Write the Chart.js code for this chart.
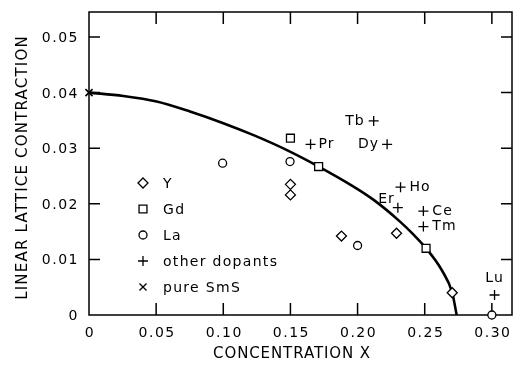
<!DOCTYPE html>
<html>
<head>
<meta charset="utf-8">
<script src="https://cdn.jsdelivr.net/npm/chart.js@4/dist/chart.umd.min.js"></script>
<style>
  html, body { margin: 0; padding: 0; background: #fff; }
</style>
</head>
<body>
<canvas id="chart" width="513" height="369"></canvas>
<script>
// axis ticks
const xTicks = [0, 0.05, 0.10, 0.15, 0.20, 0.25, 0.30];
const xTickLabels = ['0', '0.05', '0.10', '0.15', '0.20', '0.25', '0.30'];
const yTicks = [0, 0.01, 0.02, 0.03, 0.04, 0.05];
const yTickLabels = ['0', '0.01', '0.02', '0.03', '0.04', '0.05'];

// measured points
const yttX = [0.150, 0.150, 0.188, 0.229, 0.2705];
const yttY = [0.0235, 0.0216, 0.0142, 0.0147, 0.0040];
const gdX = [0.150, 0.171, 0.251];
const gdY = [0.0318, 0.0267, 0.0120];
const laX = [0.0995, 0.1497, 0.200, 0.300];
const laY = [0.0273, 0.0276, 0.0125, 0.0];
const dopantNames = ['Pr', 'Tb', 'Dy', 'Ho', 'Er', 'Ce', 'Tm', 'Lu'];
const dopantX = [0.165, 0.212, 0.222, 0.232, 0.230, 0.249, 0.249, 0.302];
const dopantY = [0.0307, 0.0349, 0.0307, 0.0230, 0.0193, 0.0187, 0.0159, 0.0036];
const smsX = [0];
const smsY = [0.040];

// fitted curve
const curveX = [0, 0.0256, 0.0504, 0.0752, 0.100, 0.123, 0.147, 0.171, 0.197, 0.212, 0.2316, 0.2415, 0.251, 0.2626, 0.2705, 0.2738];
const curveY = [0.040, 0.0394, 0.0384, 0.0366, 0.0345, 0.0323, 0.0297, 0.0267, 0.0231, 0.0207, 0.0168, 0.0145, 0.0120, 0.0081, 0.0040, 0];

const FONT = '"DejaVu Sans", sans-serif';
const pts = (xs, ys) => xs.map((x, i) => ({ x: x, y: ys[i] }));

// where each dopant name sits relative to its marker
const labelPos = {
  Pr: { dx: 8, dy: 0, align: 'left' },
  Tb: { dx: -9, dy: 0, align: 'right' },
  Dy: { dx: -8, dy: 0, align: 'right' },
  Ho: { dx: 9, dy: 0, align: 'left' },
  Er: { dx: -3, dy: -8, align: 'right' },
  Ce: { dx: 9, dy: 0, align: 'left' },
  Tm: { dx: 9, dy: 0, align: 'left' },
  Lu: { dx: 0, dy: -17, align: 'center' }
};

const legendItems = [
  { text: 'Y', style: 'rectRot', r: 5 },
  { text: 'Gd', style: 'rect', r: 5.6 },
  { text: 'La', style: 'circle', r: 4 },
  { text: 'other dopants', style: 'cross', r: 5 },
  { text: 'pure SmS', style: 'crossRot', r: 5 }
];

function marker(style, r) {
  return {
    type: 'scatter', pointStyle: style, pointRadius: r, pointHoverRadius: r,
    pointBorderColor: '#000', pointBackgroundColor: '#fff', pointBorderWidth: 1.3,
    clip: false
  };
}

const framePlugin = {
  id: 'frame',
  beforeDatasetsDraw(chart) {
    const { ctx, chartArea: a, scales: { x, y } } = chart;
    ctx.save();
    ctx.strokeStyle = '#000';
    ctx.lineWidth = 1.5;
    ctx.strokeRect(a.left, a.top, a.right - a.left, a.bottom - a.top);
    ctx.beginPath();
    xTicks.forEach(v => {
      if (v === 0) return;
      const px = x.getPixelForValue(v);
      ctx.moveTo(px, a.bottom); ctx.lineTo(px, a.bottom - 12);
      ctx.moveTo(px, a.top); ctx.lineTo(px, a.top + 12);
    });
    yTicks.forEach(v => {
      if (v === 0) return;
      const py = y.getPixelForValue(v);
      ctx.moveTo(a.left, py); ctx.lineTo(a.left + 11, py);
      ctx.moveTo(a.right, py); ctx.lineTo(a.right - 11, py);
    });
    ctx.stroke();

    // tick labels and axis titles (spaced lettering like the original)
    ctx.fillStyle = '#000';
    ctx.font = '14px ' + FONT;
    ctx.letterSpacing = '1.5px';
    ctx.textBaseline = 'alphabetic';
    ctx.textAlign = 'center';
    xTicks.forEach((v, i) => ctx.fillText(xTickLabels[i], x.getPixelForValue(v) + 1, a.bottom + 22));
    ctx.textAlign = 'right';
    yTicks.forEach((v, i) => ctx.fillText(yTickLabels[i], a.left - 10, y.getPixelForValue(v) + 5));

    ctx.font = '15px ' + FONT;
    ctx.letterSpacing = '0.9px';
    ctx.textAlign = 'center';
    ctx.fillText('CONCENTRATION X', 292, 358);
    ctx.letterSpacing = '1.2px';
    ctx.translate(27, (a.top + a.bottom) / 2 + 4);
    ctx.rotate(-Math.PI / 2);
    ctx.fillText('LINEAR LATTICE CONTRACTION', 0, 0);
    ctx.restore();
  },
  afterDatasetsDraw(chart) {
    const { ctx, scales: { x, y } } = chart;
    ctx.save();
    ctx.letterSpacing = '1px';
    ctx.fillStyle = '#000';
    ctx.font = '14px ' + FONT;
    ctx.textBaseline = 'middle';
    dopantNames.forEach((name, i) => {
      const p = labelPos[name];
      ctx.textAlign = p.align;
      ctx.fillText(name, x.getPixelForValue(dopantX[i]) + p.dx, y.getPixelForValue(dopantY[i]) + p.dy);
    });
    // legend inside the plot
    ctx.textAlign = 'left';
    ctx.letterSpacing = '1.3px';
    ctx.strokeStyle = '#000';
    ctx.lineWidth = 1.3;
    legendItems.forEach((it, i) => {
      const ly = 183 + i * 26;
      ctx.fillStyle = '#fff';
      Chart.helpers.drawPoint(ctx, { pointStyle: it.style, radius: it.r, rotation: 0, borderWidth: 1.3 }, 143, ly);
      ctx.fillStyle = '#000';
      ctx.fillText(it.text, 163, ly + 1);
    });
    ctx.restore();
  }
};

new Chart(document.getElementById('chart'), {
  type: 'scatter',
  data: {
    datasets: [
      Object.assign(marker('crossRot', 5), { label: 'pure SmS', data: pts(smsX, smsY), pointBorderWidth: 1.6 }),
      Object.assign(marker('cross', 5), { label: 'other dopants', data: pts(dopantX, dopantY) }),
      Object.assign(marker('rectRot', 5), { label: 'Y', data: pts(yttX, yttY) }),
      Object.assign(marker('rect', 5.6), { label: 'Gd', data: pts(gdX, gdY) }),
      Object.assign(marker('circle', 4), { label: 'La', data: pts(laX, laY) }),
      {
        type: 'scatter', label: 'curve', data: pts(curveX, curveY),
        showLine: true, borderColor: '#000', borderWidth: 2.6,
        pointRadius: 0, cubicInterpolationMode: 'monotone', clip: false
      }
    ]
  },
  options: {
    responsive: false,
    animation: false,
    events: [],
    layout: { autoPadding: false, padding: { top: 12, right: 1, left: 0, bottom: 0 } },
    plugins: { legend: { display: false }, tooltip: { enabled: false } },
    scales: {
      x: {
        type: 'linear', min: 0, max: 0.315,
        afterBuildTicks: s => { s.ticks = xTicks.map(v => ({ value: v })); },
        afterFit: s => { s.height = 54; s.paddingLeft = 0; s.paddingRight = 0; },
        grid: { display: false, drawTicks: false },
        border: { display: false },
        ticks: { display: false },
        title: { display: false }
      },
      y: {
        type: 'linear', min: 0, max: 0.0545,
        afterBuildTicks: s => { s.ticks = yTicks.map(v => ({ value: v })); },
        afterFit: s => { s.width = 89; s.paddingTop = 0; s.paddingBottom = 0; },
        grid: { display: false, drawTicks: false },
        border: { display: false },
        ticks: { display: false },
        title: { display: false }
      }
    }
  },
  plugins: [framePlugin]
});
</script>
</body>
</html>
